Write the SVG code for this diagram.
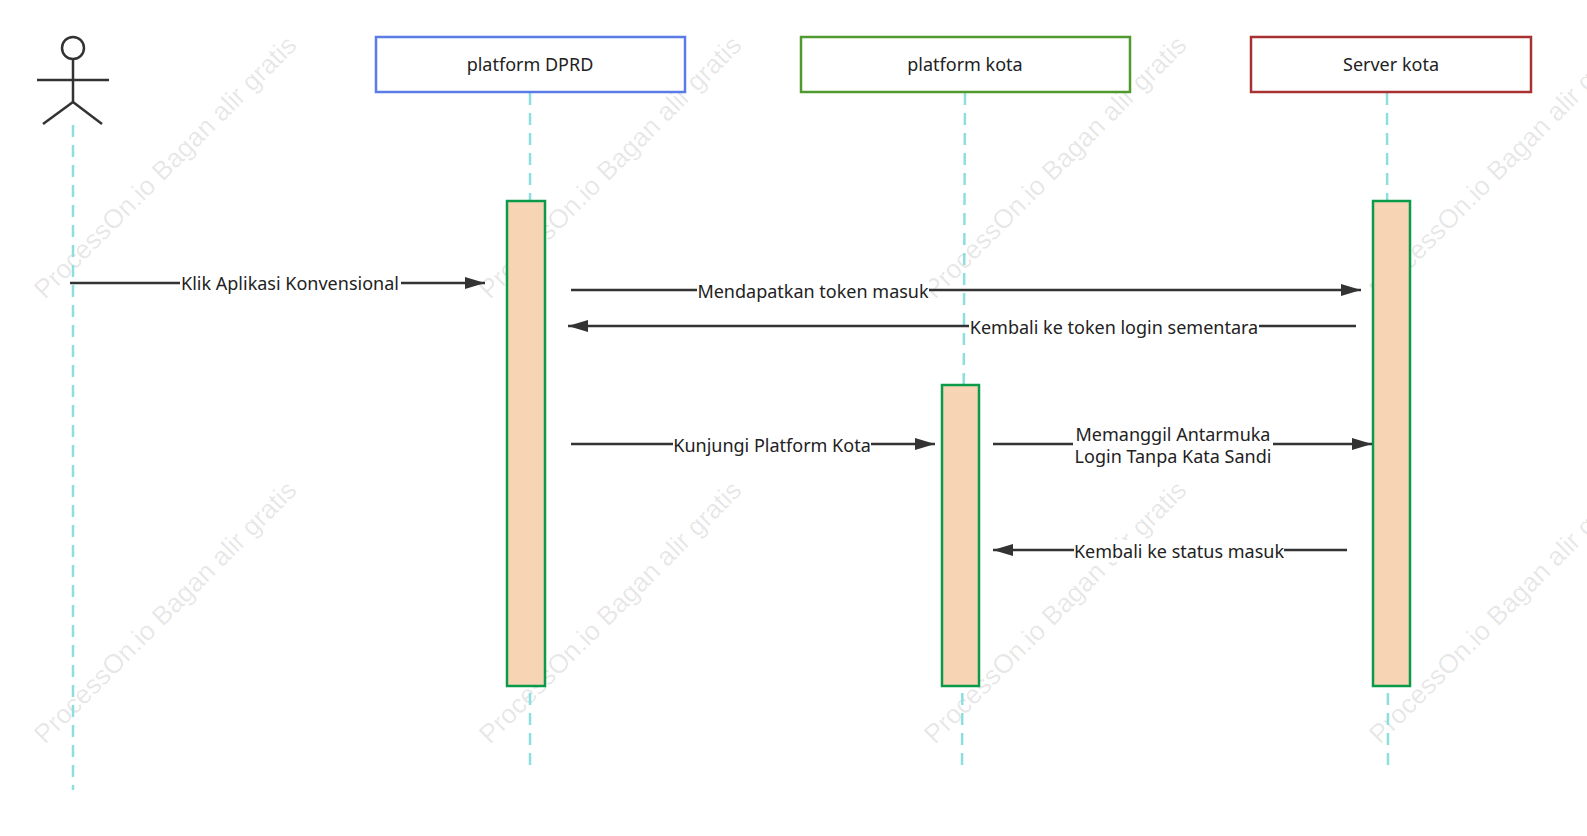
<svg xmlns="http://www.w3.org/2000/svg" width="1587" height="836" viewBox="0 0 1587 836">
<style>
text{font-family:"Noto Sans","Open Sans","Liberation Sans",sans-serif;fill:#222}
.life{stroke:#8ddfdf;stroke-width:2.5;stroke-dasharray:12,8;fill:none}
.head{fill:#fff;stroke-width:2.5}
.act{fill:#f7d4b4;stroke:#0a9a4a;stroke-width:2.5}
.msg{stroke:#333;stroke-width:2.5;fill:none;marker-end:url(#ah)}
.lbl{font-size:18px;text-anchor:middle}
.wm{font-size:26.5px;fill:#000;fill-opacity:0.1;font-family:"Liberation Sans",sans-serif}
</style>
<defs><marker id="ah" markerWidth="20" markerHeight="12" refX="20" refY="6" orient="auto" markerUnits="userSpaceOnUse"><path d="M0,0L20,6L0,12z" fill="#333"/></marker></defs>
<rect width="1587" height="836" fill="#fff"/>
<g id="watermarks">
<text class="wm" transform="translate(45,300) rotate(-45)">ProcessOn.io Bagan alir gratis</text>
<text class="wm" transform="translate(490,745) rotate(-45)">ProcessOn.io Bagan alir gratis</text>
<text class="wm" transform="translate(490,300) rotate(-45)">ProcessOn.io Bagan alir gratis</text>
<text class="wm" transform="translate(935,300) rotate(-45)">ProcessOn.io Bagan alir gratis</text>
<text class="wm" transform="translate(1380,300) rotate(-45)">ProcessOn.io Bagan alir gratis</text>
<text class="wm" transform="translate(45,745) rotate(-45)">ProcessOn.io Bagan alir gratis</text>
<text class="wm" transform="translate(935,745) rotate(-45)">ProcessOn.io Bagan alir gratis</text>
<text class="wm" transform="translate(1380,745) rotate(-45)">ProcessOn.io Bagan alir gratis</text>
</g>
<g id="lifelines">
<line class="life" x1="73" y1="125" x2="73" y2="790"/>
<line class="life" x1="530" y1="93" x2="530" y2="770"/>
<line class="life" x1="965" y1="93" x2="962" y2="768"/>
<line class="life" x1="1387" y1="93" x2="1388" y2="772"/>
</g>
<g id="actor" stroke="#333" stroke-width="2.5" fill="none">
<circle cx="73" cy="48" r="11" fill="#fff"/>
<line x1="73" y1="59" x2="73" y2="102"/>
<line x1="37" y1="80" x2="109" y2="80"/>
<line x1="73" y1="102" x2="43" y2="124"/>
<line x1="73" y1="102" x2="102" y2="124"/>
</g>
<g id="dprd"><rect class="head" x="376" y="37" width="309" height="55" stroke="#5a7be8"/><text x="530" y="71" font-size="18" text-anchor="middle">platform DPRD</text></g>
<g id="kota"><rect class="head" x="801" y="37" width="329" height="55" stroke="#4f9a2e"/><text x="965" y="71" font-size="18" text-anchor="middle">platform kota</text></g>
<g id="server"><rect class="head" x="1251" y="37" width="280" height="55" stroke="#a83232"/><text x="1391" y="71" font-size="18" text-anchor="middle">Server kota</text></g>
<g id="act-dprd"><rect class="act" x="507" y="201" width="38" height="485"/></g>
<g id="act-kota"><rect class="act" x="942" y="385" width="37" height="301"/></g>
<g id="act-server"><rect class="act" x="1373" y="201" width="37" height="485"/></g>
<g id="connectors">
<line class="msg" x1="70" y1="283" x2="485" y2="283"/>
<line class="msg" x1="571" y1="290" x2="1361" y2="290"/>
<line class="msg" x1="1356" y1="326" x2="568" y2="326"/>
<line class="msg" x1="571" y1="444" x2="935" y2="444"/>
<line class="msg" x1="993" y1="444" x2="1372" y2="444"/>
<line class="msg" x1="1347" y1="550" x2="993" y2="550"/>
</g>
<g id="labels">
<rect x="180" y="272" width="221" height="22" fill="#fff"/><text class="lbl" x="290" y="290">Klik Aplikasi Konvensional</text>
<rect x="697" y="280" width="232" height="22" fill="#fff"/><text class="lbl" x="813" y="298">Mendapatkan token masuk</text>
<rect x="969" y="316" width="290" height="22" fill="#fff"/><text class="lbl" x="1114" y="334">Kembali ke token login sementara</text>
<rect x="673" y="434" width="198" height="22" fill="#fff"/><text class="lbl" x="772" y="452">Kunjungi Platform Kota</text>
<rect x="1073" y="424" width="200" height="44" fill="#fff"/><text class="lbl" x="1173" y="441">Memanggil Antarmuka</text><text class="lbl" x="1173" y="463">Login Tanpa Kata Sandi</text>
<rect x="1074" y="540" width="210" height="22" fill="#fff"/><text class="lbl" x="1179" y="558">Kembali ke status masuk</text>
</g>
</svg>
